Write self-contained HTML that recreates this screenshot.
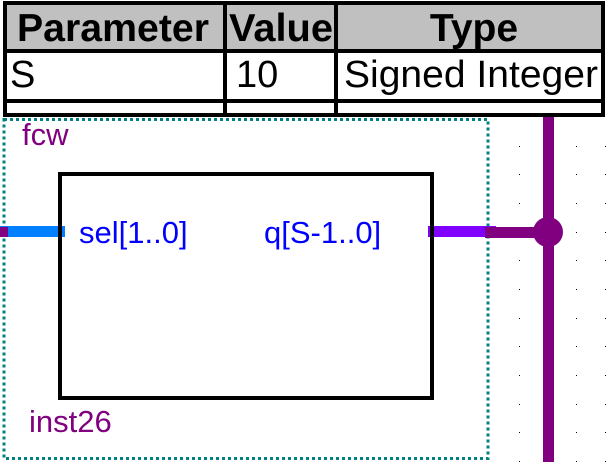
<!DOCTYPE html>
<html><head><style>
html,body{margin:0;padding:0;background:#fff;}
svg{display:block;}
text{font-family:"Liberation Sans",Arial,sans-serif;}
</style></head><body>
<svg width="606" height="462" viewBox="0 0 606 462" xmlns="http://www.w3.org/2000/svg">
<rect x="0" y="0" width="606" height="462" fill="#fff"/>
<!-- table -->
<rect x="5" y="3" width="598" height="48" fill="#c0c0c0"/>
<g stroke="#000" stroke-width="4" fill="none">
<rect x="5" y="3" width="598" height="112"/>
<line x1="5" y1="51" x2="603" y2="51"/>
<line x1="5" y1="101" x2="603" y2="101"/>
<line x1="225" y1="3" x2="225" y2="115"/>
<line x1="336" y1="3" x2="336" y2="115"/>
</g>
<text x="17" y="41" font-size="39" font-weight="bold" textLength="192" lengthAdjust="spacingAndGlyphs">Parameter</text>
<text x="229" y="41" font-size="39" font-weight="bold" textLength="104" lengthAdjust="spacingAndGlyphs">Value</text>
<text x="474" y="41" font-size="39" font-weight="bold" text-anchor="middle">Type</text>
<text x="10" y="87" font-size="38">S</text>
<text x="236" y="87" font-size="38">10</text>
<text x="344" y="87" font-size="38" textLength="254" lengthAdjust="spacingAndGlyphs">Signed Integer</text>
<!-- grid dots -->
<g fill="#000">
<rect x="519" y="146" width="1" height="1"/><rect x="576" y="146" width="1" height="1"/><rect x="605" y="146" width="1" height="1"/>
<rect x="519" y="174" width="1" height="1"/><rect x="576" y="174" width="1" height="1"/><rect x="605" y="174" width="1" height="1"/>
<rect x="519" y="203" width="1" height="1"/><rect x="576" y="203" width="1" height="1"/><rect x="605" y="203" width="1" height="1"/>
<rect x="519" y="232" width="1" height="1"/><rect x="576" y="232" width="1" height="1"/><rect x="605" y="232" width="1" height="1"/>
<rect x="519" y="260" width="1" height="1"/><rect x="576" y="260" width="1" height="1"/><rect x="605" y="260" width="1" height="1"/>
<rect x="519" y="289" width="1" height="1"/><rect x="576" y="289" width="1" height="1"/><rect x="605" y="289" width="1" height="1"/>
<rect x="519" y="318" width="1" height="1"/><rect x="576" y="318" width="1" height="1"/><rect x="605" y="318" width="1" height="1"/>
<rect x="519" y="346" width="1" height="1"/><rect x="576" y="346" width="1" height="1"/><rect x="605" y="346" width="1" height="1"/>
<rect x="519" y="375" width="1" height="1"/><rect x="576" y="375" width="1" height="1"/><rect x="605" y="375" width="1" height="1"/>
<rect x="519" y="404" width="1" height="1"/><rect x="576" y="404" width="1" height="1"/><rect x="605" y="404" width="1" height="1"/>
<rect x="519" y="432" width="1" height="1"/><rect x="576" y="432" width="1" height="1"/><rect x="605" y="432" width="1" height="1"/>
<rect x="519" y="461" width="1" height="1"/><rect x="576" y="461" width="1" height="1"/><rect x="605" y="461" width="1" height="1"/>
</g>
<!-- dashed instance box -->
<rect x="4" y="119.5" width="484" height="339" fill="none" stroke="#008080" stroke-width="3" stroke-dasharray="3,3"/>
<!-- bus -->
<rect x="543" y="117" width="11" height="345" fill="#800080"/>
<circle cx="548" cy="232" r="15" fill="#800080"/>
<rect x="428" y="226" width="68" height="11" fill="#8000ff"/>
<rect x="485" y="227" width="63" height="11" fill="#800080"/>
<!-- left stub -->
<rect x="0" y="226" width="65" height="11" fill="#0080ff"/>
<rect x="0" y="227" width="8" height="10" fill="#800080"/>
<!-- block -->
<rect x="60" y="174" width="372" height="224" fill="none" stroke="#000" stroke-width="4"/>
<text x="22" y="145" font-size="31" fill="#800080">fcw</text>
<text x="79" y="243" font-size="31" fill="#0000ff">sel[1..0]</text>
<text x="264" y="243" font-size="31" fill="#0000ff">q[S-1..0]</text>
<text x="29" y="432" font-size="31" fill="#800080">inst26</text>
</svg>
</body></html>
